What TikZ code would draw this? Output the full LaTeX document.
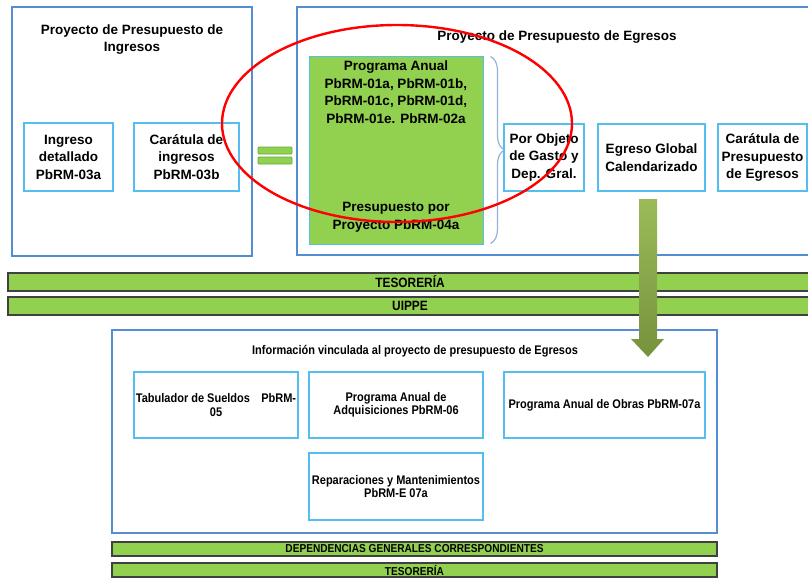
\documentclass[tikz,border=0pt]{standalone}
\usepackage{fontspec}
\setmainfont{Liberation Sans}
\newfontfamily\narrowfont[FakeStretch=0.88]{Liberation Sans}
\usetikzlibrary{decorations.pathreplacing,calc}
\definecolor{outblue}{RGB}{84,141,212}
\definecolor{inblue}{RGB}{85,190,240}
\definecolor{lgreen}{RGB}{146,208,80}
\definecolor{eqline}{RGB}{98,170,60}
\definecolor{barline}{RGB}{64,64,64}
\definecolor{bracecol}{RGB}{149,179,215}
\definecolor{arrtop}{RGB}{155,187,89}
\definecolor{arrbot}{RGB}{118,146,60}
\newcommand{\uptext}{\fontsize{13.5}{17.5}\selectfont\bfseries}
\newcommand{\lowtext}{\narrowfont\fontsize{12.5}{13.5}\selectfont\bfseries}
\newcommand{\bartext}{\narrowfont\fontsize{13.5}{14}\selectfont\bfseries}
\newcommand{\smallbartext}{\narrowfont\fontsize{11.5}{12}\selectfont\bfseries}
\begin{document}
\begin{tikzpicture}[x=1pt,y=-1pt,
  outbox/.style={draw=outblue,line width=1.6pt,inner sep=0pt},
  upbox/.style={draw=inblue,line width=1.4pt,inner sep=0pt,align=center,font=\uptext},
  lowbox/.style={draw=inblue,line width=1.4pt,inner sep=0pt,align=center,font=\lowtext},
  bar/.style={draw=barline,fill=lgreen,line width=1.2pt,inner sep=0pt,font=\bartext},
  eqbar/.style={draw=eqline,fill=lgreen,line width=0.8pt,rounded corners=1pt},
  brace/.style={draw=bracecol,line width=1.2pt,decorate,decoration={brace,amplitude=14pt}},
  redring/.style={draw=red,line width=2.4pt}]
\useasboundingbox (0,0) rectangle (808,578);
% ingresos
\node[outbox,minimum width=240pt,minimum height=249pt] (ingresos) at (132,131.5) {};
\node[font=\uptext,align=center] (ingtitle) at (132,39.3) {Proyecto de Presupuesto de\\Ingresos};
\node[upbox,minimum width=89pt,minimum height=68pt] (ingdet) at (68.5,157) {Ingreso\\detallado\\PbRM-03a};
\node[upbox,minimum width=105pt,minimum height=68pt] (caring) at (186.5,157) {Carátula de\\ingresos\\PbRM-03b};
% signo igual
\draw[eqbar] (258,147) rectangle (292,154);
\draw[eqbar] (258,157) rectangle (292,164);
% egresos
\node[outbox,minimum width=518pt,minimum height=248pt] (egresos) at (556,131) {};
\node[font=\uptext] (egtitle) at (557,37) {Proyecto de Presupuesto de Egresos};
\node[draw=inblue,fill=lgreen,line width=1pt,minimum width=174pt,minimum height=187pt] (prog) at (396,150.5) {};
\node[font=\uptext,align=center] (progtop) at (396,92.3) {Programa Anual\\PbRM-01a, PbRM-01b,\\PbRM-01c, PbRM-01d,\\PbRM-01e. PbRM-02a};
\node[font=\uptext,align=center] (progbot) at (396,217.5) {Presupuesto por\\Proyecto PbRM-04a};
\draw[brace] ($(prog.north east)+(7,0)$) -- ($(prog.south east)+(7,-1)$);
\node[upbox,minimum width=80pt,minimum height=67pt] (porobj) at (544,157.5) {Por Objeto\\de Gasto y\\Dep. Gral.};
\node[upbox,minimum width=107pt,minimum height=67pt] (egglob) at (651.5,157.5) {Egreso Global\\Calendarizado};
\node[upbox,minimum width=89pt,minimum height=67pt] (carpre) at (762.5,157.5) {Carátula de\\Presupuesto\\de Egresos};
% barras
\node[bar,minimum width=804pt,minimum height=18pt] (tes) at (410,282) {TESORERÍA};
\node[bar,minimum width=804pt,minimum height=18pt] (uippe) at (410,306) {UIPPE};
% informacion vinculada
\node[outbox,minimum width=605pt,minimum height=203pt] (vinc) at (414.5,431.5) {};
\node[font=\lowtext] (vinctitle) at (415,351.7) {Información vinculada al proyecto de presupuesto de Egresos};
\node[lowbox,minimum width=164pt,minimum height=66pt] (tab) at (216,405) {Tabulador de Sueldos\hspace{0.9em}PbRM-\\05};
\node[lowbox,minimum width=174pt,minimum height=66pt] (adq) at (396,405) {Programa Anual de\\Adquisiciones PbRM-06};
\node[lowbox,minimum width=201pt,minimum height=66pt] (obras) at (604.5,405) {Programa Anual de Obras PbRM-07a};
\node[lowbox,minimum width=174pt,minimum height=67pt] (repar) at (396,486.5) {Reparaciones y Mantenimientos\\PbRM-E 07a};
\node[bar,font=\smallbartext,minimum width=605pt,minimum height=14pt] (dep) at (414.5,549) {DEPENDENCIAS GENERALES CORRESPONDIENTES};
\node[bar,font=\smallbartext,minimum width=605pt,minimum height=14pt] (tes2) at (414.5,570) {TESORERÍA};
% flecha
\shade[top color=arrtop,bottom color=arrbot] (639,199) -- (657,199) -- (657,339) -- (664,339) -- (648,357) -- (631,339) -- (639,339) -- cycle;
% ovalo rojo
\draw[redring] (397,123.5) ellipse [x radius=175pt, y radius=98.5pt];
\end{tikzpicture}
\end{document}
